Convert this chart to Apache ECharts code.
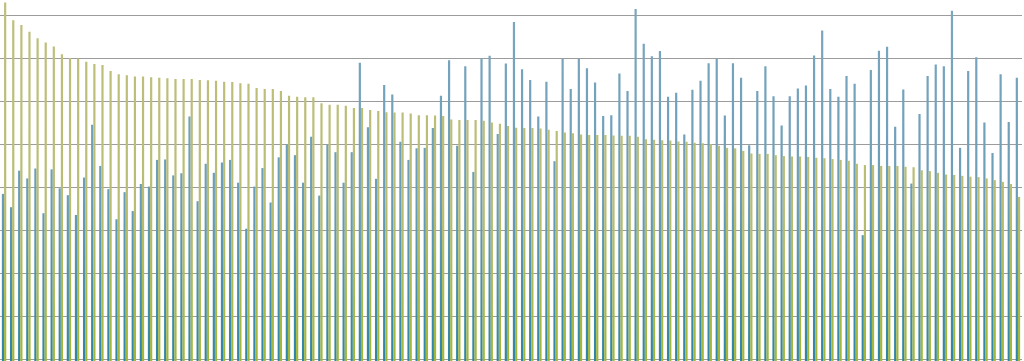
<!DOCTYPE html>
<html>
<head>
<meta charset="utf-8">
<script src="https://cdn.jsdelivr.net/npm/echarts@6/dist/echarts.min.js"></script>
<style>
html,body{margin:0;padding:0;background:#ffffff;overflow:hidden;width:1024px;height:361px;}
#chart{position:absolute;left:0;top:-28px;width:1024px;height:470px;}
</style>
</head>
<body>
<div id="chart"></div>
<script>
const categories = Array.from({length: 126}, (_, i) => String(i + 1));

const blueValues = [
48.4,45.3,53.8,52.0,54.3,43.9,54.1,49.7,48.1,43.5,
52.2,64.5,54.9,49.5,42.5,48.8,44.4,50.7,50.1,56.3,
56.4,52.7,53.2,66.4,46.7,55.4,53.3,55.7,56.3,51.0,
40.3,50.1,54.4,46.4,56.9,59.8,57.4,51.0,61.7,48.0,
59.8,58.1,51.0,58.1,78.9,63.9,51.9,73.7,71.5,60.5,
56.3,59.0,59.1,63.7,71.2,79.5,59.6,78.1,53.5,79.9,
80.5,62.3,78.7,88.4,77.4,74.9,66.4,74.5,56.0,79.8,
72.8,79.8,77.6,74.3,66.5,66.7,76.4,72.3,91.4,83.3,
80.4,81.6,71.0,71.9,62.2,72.6,74.7,78.8,79.8,66.6,
78.8,75.4,59.7,72.3,78.1,71.1,64.3,71.1,72.9,73.6,
80.6,86.4,72.8,71.0,75.8,74.0,38.8,77.2,81.7,82.6,
64.0,72.7,50.8,67.0,75.8,78.5,78.1,91.0,59.1,77.0,
80.2,65.0,57.9,76.2,65.1,75.4
];

const yellowValues = [
92.9,88.8,87.7,86.1,84.6,83.6,82.7,80.9,80.0,79.9,
79.1,78.6,78.4,77.0,76.2,76.0,75.7,75.7,75.5,75.4,
75.3,75.1,75.1,75.1,74.9,74.8,74.7,74.5,74.4,74.1,
74.0,73.0,72.8,72.8,72.3,71.2,71.0,70.9,70.9,69.5,
69.1,69.1,68.9,68.4,68.4,67.9,67.7,67.4,67.3,67.3,
67.1,66.7,66.7,66.6,66.5,65.7,65.6,65.6,65.6,65.4,
65.0,64.7,64.2,63.8,63.7,63.7,63.6,63.3,63.0,62.7,
62.5,62.2,62.1,62.1,62.1,62.0,61.9,61.9,61.7,61.1,
61.0,60.9,60.8,60.6,60.5,60.3,60.2,60.0,59.6,59.1,
59.0,58.4,57.8,57.7,57.7,57.4,57.2,57.1,57.1,57.0,
56.8,56.7,56.5,56.3,56.1,55.4,55.1,55.1,54.9,54.9,
54.9,54.7,54.6,53.9,53.7,53.3,52.9,52.8,52.6,52.4,
52.3,52.0,51.6,51.2,50.7,47.7
];

const yTicks = [0, 10, 20, 30, 40, 50, 60, 70, 80, 90, 100];

// gradients in chart-div pixel space (div starts 28px above the page)
const blueFill = new echarts.graphic.LinearGradient(0, 28, 0, 389, [
  {offset: 0, color: '#7ca7bf'},
  {offset: 0.55, color: '#6a9db9'},
  {offset: 1, color: '#2e85a6'}
], true);
const yellowFill = new echarts.graphic.LinearGradient(0, 28, 0, 389, [
  {offset: 0, color: '#bfbf7f'},
  {offset: 0.55, color: '#b9bd72'},
  {offset: 1, color: '#a1b736'}
], true);

const chart = echarts.init(document.getElementById('chart'), null, {renderer: 'canvas'});
chart.setOption({
  animation: false,
  backgroundColor: '#ffffff',
  grid: {left: 0, top: 0, width: 1022, height: 430, containLabel: false},
  xAxis: {
    type: 'category',
    data: categories,
    show: false
  },
  yAxis: {
    type: 'value',
    min: yTicks[0],
    max: yTicks[yTicks.length - 1],
    interval: 10,
    axisLine: {show: false},
    axisTick: {show: false},
    axisLabel: {show: false},
    splitLine: {show: true, lineStyle: {color: '#9c9c9c', width: 1}}
  },
  series: [
    {
      name: 'Blue',
      type: 'bar',
      data: blueValues,
      barWidth: 2.2,
      barGap: '0%',
      itemStyle: {color: blueFill}
    },
    {
      name: 'Yellow',
      type: 'bar',
      data: yellowValues,
      barWidth: 2.2,
      barGap: '0%',
      itemStyle: {color: yellowFill}
    }
  ]
});
</script>
</body>
</html>
